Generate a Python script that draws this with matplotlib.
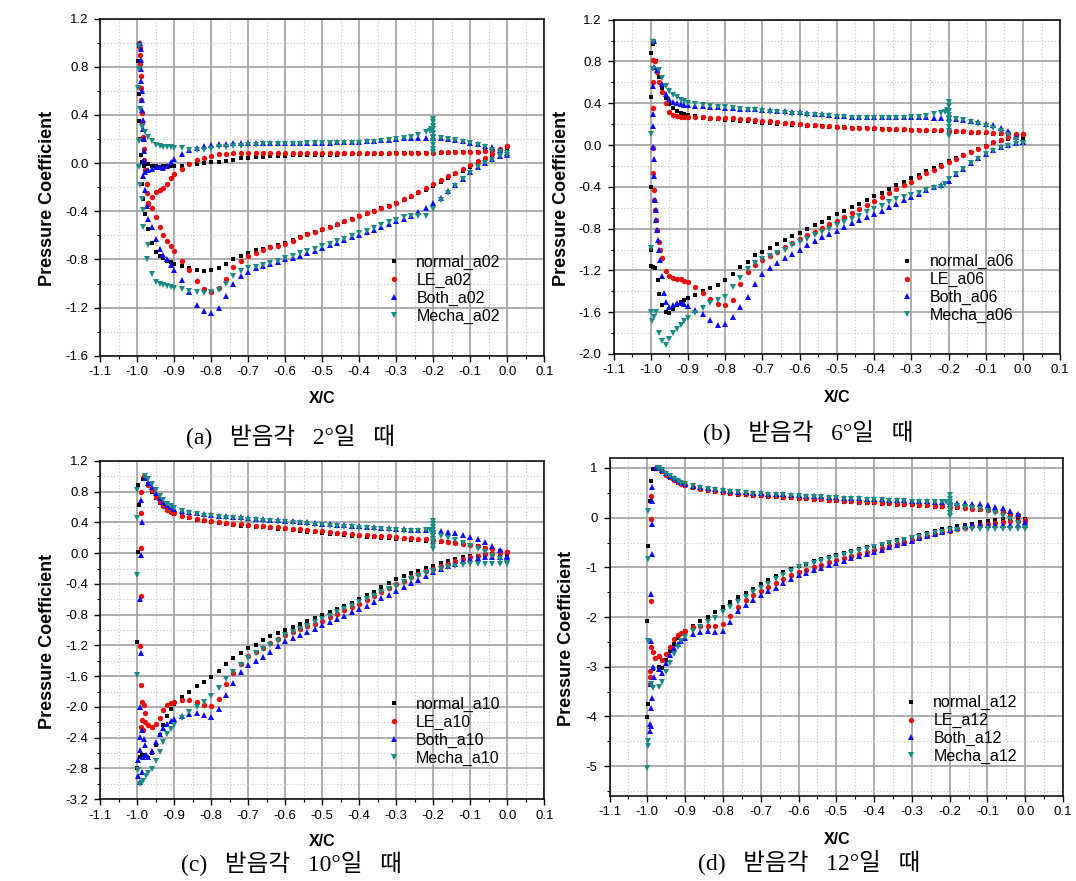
import matplotlib
matplotlib.use('Agg')
import matplotlib.pyplot as plt
from matplotlib.ticker import MultipleLocator, FuncFormatter

plt.rcParams['font.family'] = ['Liberation Sans', 'DejaVu Sans']
plt.rcParams['axes.unicode_minus'] = False

# X/C stations shared by both surface branches
xc = [-0.97, -0.96, -0.95, -0.94, -0.93, -0.92, -0.91, -0.90,
      -0.88, -0.86, -0.84, -0.82, -0.80, -0.78, -0.76, -0.74, -0.72, -0.70,
      -0.68, -0.66, -0.64, -0.62, -0.60, -0.58, -0.56, -0.54, -0.52, -0.50,
      -0.48, -0.46, -0.44, -0.42, -0.40, -0.38, -0.36, -0.34, -0.32, -0.30,
      -0.28, -0.26, -0.24, -0.22, -0.20, -0.18, -0.16, -0.14, -0.12, -0.10,
      -0.08, -0.06, -0.04, -0.02, 0.00]

series_names = ['normal', 'LE', 'Both', 'Mecha']
angle_tags = ['a02', 'a06', 'a10', 'a12']
captions = ['(a)   받음각   2°일   때', '(b)   받음각   6°일   때',
            '(c)   받음각   10°일   때', '(d)   받음각   12°일   때']

# ---------------- alpha = 2 deg ----------------
normal_a02_up = [-0.01, -0.02, -0.02, -0.03, -0.02, -0.02, -0.02, -0.02,
                 -0.02, -0.01, -0.01, 0.00, 0.01, 0.01, 0.02, 0.03, 0.04, 0.045,
                 0.05, 0.054, 0.058, 0.06, 0.062, 0.064, 0.065, 0.066, 0.067, 0.068,
                 0.069, 0.07, 0.072, 0.073, 0.075, 0.076, 0.077, 0.078, 0.079, 0.08,
                 0.081, 0.082, 0.084, 0.085, 0.086, 0.087, 0.088, 0.09, 0.092, 0.094,
                 0.096, 0.098, 0.10, 0.104, 0.11]
normal_a02_lo = [-0.55, -0.66, -0.74, -0.77, -0.79, -0.81, -0.82, -0.835,
                 -0.855, -0.875, -0.89, -0.895, -0.89, -0.875, -0.835, -0.80, -0.77, -0.745,
                 -0.725, -0.71, -0.695, -0.68, -0.665, -0.64, -0.615, -0.592, -0.57, -0.553,
                 -0.53, -0.51, -0.487, -0.465, -0.442, -0.42, -0.398, -0.376, -0.354, -0.332,
                 -0.305, -0.28, -0.252, -0.222, -0.19, -0.158, -0.126, -0.094, -0.062, -0.03,
                 0.0, 0.03, 0.06, 0.085, 0.105]
normal_a02_extra = [(-0.995, 0.97), (-0.997, 0.85), (-0.996, 0.57), (-0.995, 0.35), (-0.993, 0.2),
                    (-0.99, 0.07), (-0.986, 0.01), (-0.982, -0.02), (-0.988, -0.17), (-0.984, -0.3),
                    (-0.979, -0.42)]
LE_a02_up = [-0.33, -0.28, -0.24, -0.225, -0.21, -0.17, -0.125, -0.09,
             -0.045, -0.005, 0.025, 0.045, 0.062, 0.072, 0.078, 0.082, 0.085, 0.087,
             0.088, 0.088, 0.088, 0.088, 0.088, 0.088, 0.088, 0.088, 0.088, 0.088,
             0.088, 0.088, 0.088, 0.088, 0.088, 0.088, 0.088, 0.088, 0.088, 0.088,
             0.088, 0.088, 0.088, 0.088, 0.088, 0.089, 0.09, 0.09, 0.091, 0.092,
             0.095, 0.098, 0.105, 0.118, 0.14]
LE_a02_lo = [-0.34, -0.37, -0.45, -0.53, -0.60, -0.65, -0.69, -0.73,
             -0.81, -0.89, -0.975, -1.045, -1.07, -1.04, -0.96, -0.865, -0.81, -0.77,
             -0.745, -0.72, -0.70, -0.685, -0.67, -0.645, -0.615, -0.59, -0.568, -0.55,
             -0.528, -0.506, -0.484, -0.462, -0.44, -0.418, -0.396, -0.374, -0.352, -0.33,
             -0.30, -0.27, -0.24, -0.205, -0.17, -0.14, -0.11, -0.08, -0.045, -0.015,
             0.015, 0.045, 0.075, 0.105, 0.14]
LE_a02_extra = [(-0.995, 1.0), (-0.994, 0.96), (-0.993, 0.9), (-0.992, 0.82), (-0.991, 0.72),
                (-0.99, 0.62), (-0.989, 0.52), (-0.988, 0.42), (-0.987, 0.33), (-0.985, 0.22),
                (-0.983, 0.12), (-0.981, 0.03), (-0.98, -0.06), (-0.975, -0.17), (-0.973, -0.25)]
Both_a02_up = [-0.06, -0.045, -0.03, -0.03, -0.04, -0.02, 0.01, 0.035,
               0.075, 0.105, 0.125, 0.14, 0.15, 0.158, 0.162, 0.165, 0.167, 0.168,
               0.169, 0.17, 0.17, 0.17, 0.17, 0.17, 0.17, 0.17, 0.17, 0.17,
               0.171, 0.172, 0.174, 0.176, 0.178, 0.182, 0.186, 0.19, 0.195, 0.20,
               0.205, 0.208, 0.21, 0.212, 0.21, 0.205, 0.20, 0.19, 0.18, 0.17,
               0.16, 0.145, 0.13, 0.11, 0.07]
Both_a02_lo = [-0.46, -0.53, -0.63, -0.71, -0.76, -0.80, -0.845, -0.89,
               -0.97, -1.07, -1.18, -1.23, -1.245, -1.20, -1.10, -1.00, -0.94, -0.90,
               -0.875, -0.853, -0.835, -0.82, -0.80, -0.785, -0.768, -0.75, -0.728, -0.705,
               -0.683, -0.66, -0.638, -0.616, -0.595, -0.575, -0.555, -0.53, -0.505, -0.48,
               -0.46, -0.435, -0.41, -0.37, -0.33, -0.29, -0.235, -0.18, -0.13, -0.07,
               -0.03, 0.005, 0.035, 0.06, 0.08]
Both_a02_extra = [(-0.992, 1.0), (-0.991, 0.95), (-0.99, 0.86), (-0.99, 0.78), (-0.989, 0.68),
                  (-0.988, 0.6), (-0.987, 0.52), (-0.986, 0.44), (-0.985, 0.36), (-0.984, 0.28),
                  (-0.983, 0.2), (-0.982, 0.1), (-0.981, 0.02), (-0.98, -0.07), (-0.984, -0.11),
                  (-0.979, -0.22), (-0.975, -0.36)]
Mecha_a02_up = [0.22, 0.18, 0.15, 0.138, 0.135, 0.133, 0.13, 0.128,
                0.122, 0.11, 0.106, 0.11, 0.12, 0.13, 0.137, 0.14, 0.144, 0.147,
                0.152, 0.156, 0.158, 0.16, 0.16, 0.161, 0.162, 0.163, 0.164, 0.165,
                0.166, 0.167, 0.168, 0.169, 0.17, 0.172, 0.176, 0.182, 0.19, 0.198,
                0.205, 0.215, 0.235, 0.255, 0.21, 0.205, 0.198, 0.19, 0.178, 0.166,
                0.15, 0.13, 0.11, 0.09, 0.08]
Mecha_a02_lo = [-0.68, -0.92, -0.99, -1.005, -1.01, -1.02, -1.03, -1.037,
                -1.045, -1.06, -1.07, -1.075, -1.068, -1.05, -1.00, -0.94, -0.895, -0.87,
                -0.86, -0.845, -0.83, -0.81, -0.79, -0.77, -0.75, -0.73, -0.71, -0.69,
                -0.67, -0.65, -0.63, -0.605, -0.58, -0.56, -0.54, -0.515, -0.49, -0.47,
                -0.45, -0.44, -0.44, -0.44, -0.38, -0.31, -0.25, -0.19, -0.13, -0.08,
                -0.035, 0.0, 0.03, 0.055, 0.07]
Mecha_a02_extra = [(-0.995, 0.97), (-0.996, 0.78), (-0.997, 0.62), (-0.994, 0.45), (-0.995, 0.18),
                   (-0.995, -0.03), (-0.993, -0.18), (-0.988, -0.3), (-0.985, -0.39), (-0.984, -0.53),
                   (-0.975, -0.8), (-0.988, 0.3), (-0.98, 0.26),
                   (-0.21, 0.27), (-0.205, 0.28), (-0.2, 0.37), (-0.2, 0.34), (-0.2, 0.31), (-0.2, 0.28),
                   (-0.2, 0.25), (-0.2, 0.22), (-0.2, 0.18), (-0.2, 0.15), (-0.2, 0.12), (-0.2, 0.09)]

# ---------------- alpha = 6 deg ----------------
normal_a06_up = [0.55, 0.45, 0.39, 0.35, 0.33, 0.31, 0.30, 0.29,
                 0.275, 0.26, 0.25, 0.245, 0.24, 0.236, 0.23, 0.225, 0.22, 0.215,
                 0.21, 0.205, 0.20, 0.195, 0.19, 0.186, 0.182, 0.178, 0.175, 0.172,
                 0.169, 0.166, 0.163, 0.16, 0.157, 0.154, 0.151, 0.148, 0.145, 0.142,
                 0.139, 0.136, 0.133, 0.13, 0.127, 0.124, 0.121, 0.118, 0.115, 0.111,
                 0.107, 0.102, 0.095, 0.085, 0.07]
normal_a06_lo = [-1.53, -1.60, -1.61, -1.57, -1.53, -1.50, -1.48, -1.465,
                 -1.435, -1.40, -1.37, -1.34, -1.29, -1.23, -1.17, -1.12, -1.05, -1.02,
                 -0.99, -0.95, -0.91, -0.875, -0.84, -0.805, -0.77, -0.735, -0.70, -0.665,
                 -0.63, -0.595, -0.56, -0.525, -0.49, -0.455, -0.42, -0.385, -0.35, -0.318,
                 -0.285, -0.252, -0.22, -0.188, -0.156, -0.125, -0.095, -0.066, -0.038, -0.012,
                 0.015, 0.04, 0.062, 0.08, 0.095]
normal_a06_extra = [(-0.995, 0.97), (-0.998, 0.88), (-0.985, 0.8), (-0.978, 0.65), (-0.998, 0.46),
                    (-0.999, -0.4), (-0.999, -1.0), (-0.998, -1.16), (-0.994, -1.17), (-0.989, -1.18),
                    (-0.981, -1.29), (-0.977, -1.43)]
LE_a06_up = [0.51, 0.40, 0.32, 0.29, 0.275, 0.27, 0.268, 0.266,
             0.265, 0.265, 0.263, 0.26, 0.258, 0.255, 0.25, 0.245, 0.238, 0.232,
             0.226, 0.22, 0.213, 0.206, 0.20, 0.194, 0.188, 0.183, 0.178, 0.174,
             0.17, 0.167, 0.164, 0.161, 0.158, 0.156, 0.154, 0.152, 0.15, 0.148,
             0.146, 0.144, 0.142, 0.14, 0.137, 0.134, 0.131, 0.128, 0.124, 0.12,
             0.117, 0.114, 0.112, 0.11, 0.11]
LE_a06_lo = [-1.08, -1.21, -1.25, -1.275, -1.28, -1.285, -1.30, -1.315,
             -1.36, -1.415, -1.47, -1.52, -1.53, -1.48, -1.33, -1.22, -1.15, -1.105,
             -1.06, -1.02, -0.98, -0.94, -0.90, -0.865, -0.83, -0.795, -0.76, -0.725,
             -0.687, -0.65, -0.612, -0.575, -0.537, -0.50, -0.462, -0.425, -0.387, -0.35,
             -0.31, -0.27, -0.235, -0.20, -0.165, -0.13, -0.095, -0.065, -0.035, -0.005,
             0.025, 0.05, 0.075, 0.095, 0.11]
LE_a06_extra = [(-0.993, 1.0), (-0.995, 0.81), (-0.988, 0.8), (-0.984, 0.7), (-0.979, 0.6),
                (-0.994, 0.6), (-0.994, 0.35), (-0.994, -0.03), (-0.994, -0.27), (-0.992, -0.43),
                (-0.99, -0.53), (-0.988, -0.62), (-0.985, -0.72), (-0.982, -0.81), (-0.979, -0.93),
                (-0.975, -1.0)]
Both_a06_up = [0.58, 0.49, 0.44, 0.415, 0.40, 0.39, 0.385, 0.38,
               0.375, 0.37, 0.365, 0.362, 0.358, 0.353, 0.348, 0.344, 0.34, 0.337,
               0.334, 0.33, 0.325, 0.318, 0.312, 0.305, 0.298, 0.292, 0.286, 0.28,
               0.276, 0.272, 0.269, 0.267, 0.265, 0.265, 0.265, 0.266, 0.268, 0.27,
               0.268, 0.265, 0.262, 0.258, 0.255, 0.248, 0.24, 0.23, 0.218, 0.205,
               0.19, 0.165, 0.13, 0.08, 0.03]
Both_a06_lo = [-1.25, -1.50, -1.55, -1.535, -1.515, -1.51, -1.52, -1.54,
               -1.58, -1.62, -1.675, -1.72, -1.715, -1.65, -1.55, -1.45, -1.33, -1.23,
               -1.18, -1.13, -1.08, -1.04, -1.00, -0.96, -0.92, -0.885, -0.85, -0.82,
               -0.785, -0.75, -0.72, -0.69, -0.66, -0.63, -0.595, -0.565, -0.53, -0.50,
               -0.465, -0.43, -0.405, -0.38, -0.34, -0.28, -0.225, -0.17, -0.125, -0.085,
               -0.05, -0.02, 0.0, 0.015, 0.03]
Both_a06_extra = [(-0.99, 1.0), (-0.992, 0.75), (-0.983, 0.72), (-0.995, 0.56), (-0.993, 0.3),
                  (-0.993, 0.18), (-0.993, -0.02), (-0.991, -0.13), (-0.99, -0.3), (-0.988, -0.53),
                  (-0.987, -0.62), (-0.985, -0.72), (-0.983, -0.81), (-0.981, -0.91), (-0.978, -1.0),
                  (-0.975, -1.1), (-0.965, -1.42)]
Mecha_a06_up = [0.64, 0.56, 0.52, 0.48, 0.455, 0.435, 0.42, 0.405,
                0.39, 0.38, 0.37, 0.365, 0.36, 0.352, 0.345, 0.338, 0.332, 0.325,
                0.318, 0.312, 0.306, 0.30, 0.295, 0.29, 0.284, 0.278, 0.273, 0.268,
                0.265, 0.262, 0.26, 0.258, 0.257, 0.256, 0.256, 0.257, 0.26, 0.265,
                0.272, 0.28, 0.295, 0.31, 0.255, 0.245, 0.235, 0.222, 0.205, 0.185,
                0.16, 0.13, 0.095, 0.05, 0.015]
Mecha_a06_lo = [-1.88, -1.91, -1.86, -1.80, -1.76, -1.72, -1.685, -1.655,
                -1.605, -1.56, -1.515, -1.485, -1.45, -1.36, -1.27, -1.19, -1.13, -1.09,
                -1.06, -1.03, -1.00, -0.96, -0.93, -0.90, -0.865, -0.83, -0.80, -0.77,
                -0.74, -0.71, -0.68, -0.645, -0.61, -0.58, -0.55, -0.52, -0.50, -0.48,
                -0.455, -0.43, -0.415, -0.405, -0.33, -0.28, -0.225, -0.175, -0.13, -0.09,
                -0.055, -0.025, -0.005, 0.01, 0.02]
Mecha_a06_extra = [(-0.993, 0.99), (-0.995, 0.73), (-0.979, 0.72), (-0.999, 0.11), (-0.999, -0.99),
                   (-0.999, -1.6), (-0.997, -1.68), (-0.99, -1.65), (-0.985, -1.6), (-0.978, -1.8),
                   (-0.21, -0.37),
                   (-0.21, 0.32), (-0.205, 0.335), (-0.2, 0.41), (-0.2, 0.37), (-0.2, 0.33), (-0.2, 0.29),
                   (-0.2, 0.25), (-0.2, 0.21), (-0.2, 0.17), (-0.2, 0.13), (-0.2, 0.09)]

# ---------------- alpha = 10 deg ----------------
normal_a10_up = [0.90, 0.80, 0.72, 0.66, 0.61, 0.57, 0.54, 0.515,
                 0.48, 0.455, 0.437, 0.42, 0.405, 0.392, 0.38, 0.37, 0.36, 0.352,
                 0.344, 0.336, 0.328, 0.32, 0.31, 0.30, 0.29, 0.28, 0.271, 0.262,
                 0.254, 0.246, 0.238, 0.23, 0.222, 0.215, 0.208, 0.20, 0.193, 0.186,
                 0.18, 0.174, 0.168, 0.162, 0.155, 0.148, 0.14, 0.13, 0.118, 0.104,
                 0.088, 0.07, 0.05, 0.025, -0.01]
normal_a10_lo = [-2.67, -2.60, -2.50, -2.37, -2.24, -2.12, -2.02, -1.96,
                 -1.87, -1.80, -1.73, -1.67, -1.61, -1.53, -1.44, -1.36, -1.30, -1.23,
                 -1.19, -1.13, -1.08, -1.04, -1.00, -0.96, -0.92, -0.88, -0.845, -0.81,
                 -0.77, -0.73, -0.69, -0.645, -0.60, -0.545, -0.50, -0.44, -0.39, -0.34,
                 -0.30, -0.26, -0.225, -0.19, -0.16, -0.13, -0.10, -0.075, -0.055, -0.04,
                 -0.03, -0.02, -0.012, -0.01, -0.01]
normal_a10_extra = [(-0.985, 0.97), (-0.997, 0.89), (-0.995, 0.63), (-0.997, 0.02), (-1.0, -1.15),
                    (-1.0, -2.8), (-0.993, -2.65), (-0.986, -2.63), (-0.979, -2.62)]
LE_a10_up = [0.89, 0.82, 0.73, 0.67, 0.61, 0.565, 0.54, 0.52,
             0.49, 0.465, 0.448, 0.432, 0.418, 0.405, 0.395, 0.385, 0.375, 0.366,
             0.357, 0.35, 0.343, 0.337, 0.33, 0.32, 0.31, 0.30, 0.292, 0.284,
             0.275, 0.266, 0.258, 0.25, 0.242, 0.236, 0.23, 0.224, 0.218, 0.211,
             0.204, 0.196, 0.188, 0.18, 0.17, 0.16, 0.15, 0.138, 0.124, 0.108,
             0.09, 0.072, 0.054, 0.034, 0.015]
LE_a10_lo = [-2.23, -2.26, -2.22, -2.14, -2.04, -1.98, -1.95, -1.935,
             -1.915, -1.91, -1.93, -1.975, -1.99, -1.90, -1.70, -1.56, -1.44, -1.34,
             -1.28, -1.23, -1.17, -1.12, -1.07, -1.03, -0.99, -0.95, -0.915, -0.88,
             -0.835, -0.79, -0.745, -0.70, -0.66, -0.61, -0.56, -0.505, -0.45, -0.40,
             -0.36, -0.315, -0.275, -0.235, -0.20, -0.165, -0.135, -0.105, -0.075, -0.05,
             -0.03, -0.015, -0.005, 0.005, 0.015]
LE_a10_extra = [(-0.982, 1.0), (-0.99, 0.8), (-0.991, 0.52), (-0.99, 0.065), (-0.99, -0.56),
                (-0.992, -1.21), (-0.99, -1.71), (-0.988, -1.93), (-0.982, -1.97), (-0.98, -2.08),
                (-0.988, -2.17), (-0.991, -2.26), (-0.985, -2.3), (-0.978, -2.2)]
Both_a10_up = [0.92, 0.86, 0.79, 0.72, 0.67, 0.63, 0.60, 0.58,
               0.555, 0.535, 0.52, 0.508, 0.497, 0.488, 0.48, 0.472, 0.465, 0.458,
               0.45, 0.443, 0.437, 0.43, 0.423, 0.415, 0.407, 0.40, 0.392, 0.384,
               0.377, 0.37, 0.362, 0.355, 0.348, 0.342, 0.336, 0.33, 0.323, 0.317,
               0.312, 0.307, 0.302, 0.298, 0.292, 0.283, 0.272, 0.258, 0.24, 0.215,
               0.185, 0.145, 0.10, 0.04, -0.04]
Both_a10_lo = [-2.65, -2.57, -2.45, -2.35, -2.28, -2.225, -2.185, -2.155,
               -2.115, -2.09, -2.08, -2.11, -2.125, -2.03, -1.85, -1.69, -1.55, -1.46,
               -1.40, -1.35, -1.28, -1.21, -1.14, -1.10, -1.06, -1.02, -0.98, -0.94,
               -0.90, -0.855, -0.815, -0.77, -0.73, -0.68, -0.635, -0.585, -0.54, -0.49,
               -0.44, -0.39, -0.345, -0.295, -0.25, -0.21, -0.17, -0.135, -0.10, -0.075,
               -0.06, -0.05, -0.045, -0.045, -0.05]
Both_a10_extra = [(-0.98, 0.98), (-0.99, 0.69), (-0.988, 0.41), (-0.99, -0.02), (-0.992, -0.59),
                  (-0.99, -1.3), (-0.992, -2.0), (-0.992, -2.39), (-0.994, -2.56), (-0.997, -2.69),
                  (-0.997, -2.9), (-0.993, -2.97), (-0.988, -2.85), (-0.984, -2.65), (-0.98, -2.5),
                  (-0.976, -2.62), (-0.986, -2.3), (-0.982, -2.42)]
Mecha_a10_up = [0.96, 0.90, 0.82, 0.75, 0.69, 0.645, 0.61, 0.585,
                0.55, 0.525, 0.505, 0.49, 0.478, 0.468, 0.46, 0.452, 0.445, 0.438,
                0.43, 0.423, 0.416, 0.41, 0.403, 0.395, 0.387, 0.38, 0.372, 0.365,
                0.358, 0.35, 0.343, 0.336, 0.33, 0.324, 0.318, 0.312, 0.306, 0.30,
                0.295, 0.292, 0.292, 0.30, 0.25, 0.225, 0.20, 0.17, 0.135, 0.10,
                0.06, 0.02, -0.03, -0.08, -0.13]
Mecha_a10_lo = [-2.86, -2.81, -2.70, -2.58, -2.45, -2.35, -2.29, -2.23,
                -2.14, -2.06, -2.00, -1.93, -1.86, -1.75, -1.64, -1.54, -1.45, -1.36,
                -1.30, -1.25, -1.20, -1.14, -1.07, -1.03, -0.985, -0.945, -0.90, -0.86,
                -0.815, -0.77, -0.73, -0.685, -0.64, -0.595, -0.55, -0.51, -0.465, -0.42,
                -0.38, -0.34, -0.30, -0.26, -0.23, -0.20, -0.175, -0.16, -0.15, -0.14,
                -0.14, -0.14, -0.14, -0.14, -0.14]
Mecha_a10_extra = [(-0.978, 1.0), (-1.0, 0.82), (-1.0, 0.46), (-1.0, -0.28), (-1.0, -1.58),
                   (-0.997, -2.82), (-0.993, -3.0), (-0.984, -2.96), (-0.977, -2.9),
                   (-0.21, 0.3), (-0.2, 0.42), (-0.2, 0.38), (-0.2, 0.34), (-0.2, 0.3), (-0.2, 0.26),
                   (-0.2, 0.22), (-0.2, 0.18), (-0.2, 0.14), (-0.2, 0.1), (-0.2, 0.06)]

# ---------------- alpha = 12 deg ----------------
normal_a12_up = [0.98, 0.92, 0.85, 0.80, 0.75, 0.70, 0.67, 0.645,
                 0.605, 0.57, 0.54, 0.515, 0.495, 0.478, 0.463, 0.45, 0.44, 0.43,
                 0.42, 0.41, 0.40, 0.39, 0.38, 0.37, 0.36, 0.35, 0.34, 0.33,
                 0.32, 0.312, 0.304, 0.296, 0.288, 0.28, 0.272, 0.264, 0.256, 0.248,
                 0.24, 0.232, 0.224, 0.216, 0.207, 0.198, 0.188, 0.176, 0.162, 0.146,
                 0.127, 0.105, 0.078, 0.045, -0.02]
normal_a12_lo = [-3.00, -3.02, -2.87, -2.68, -2.54, -2.43, -2.35, -2.28,
                 -2.18, -2.08, -1.99, -1.89, -1.80, -1.69, -1.60, -1.51, -1.43, -1.33,
                 -1.25, -1.17, -1.10, -1.035, -0.975, -0.925, -0.88, -0.84, -0.80, -0.755,
                 -0.715, -0.675, -0.637, -0.60, -0.565, -0.527, -0.49, -0.455, -0.42, -0.385,
                 -0.355, -0.31, -0.27, -0.23, -0.20, -0.17, -0.145, -0.12, -0.095, -0.075,
                 -0.055, -0.035, -0.025, -0.02, -0.02]
normal_a12_extra = [(-0.985, 0.97), (-0.991, 0.74), (-0.994, 0.34), (-0.997, -0.57), (-1.0, -2.08),
                    (-1.0, -4.02), (-0.997, -3.75), (-0.985, -3.05)]
LE_a12_up = [0.99, 0.93, 0.86, 0.81, 0.76, 0.715, 0.68, 0.655,
             0.615, 0.58, 0.55, 0.53, 0.51, 0.493, 0.478, 0.466, 0.456, 0.446,
             0.437, 0.428, 0.42, 0.41, 0.40, 0.39, 0.38, 0.37, 0.36, 0.35,
             0.341, 0.332, 0.324, 0.316, 0.308, 0.30, 0.292, 0.284, 0.276, 0.268,
             0.26, 0.251, 0.242, 0.232, 0.222, 0.21, 0.197, 0.183, 0.167, 0.15,
             0.13, 0.107, 0.08, 0.045, -0.04]
LE_a12_lo = [-2.78, -2.87, -2.75, -2.60, -2.45, -2.37, -2.33, -2.28,
             -2.20, -2.18, -2.18, -2.18, -2.13, -1.98, -1.79, -1.66, -1.56, -1.48,
             -1.39, -1.32, -1.24, -1.16, -1.10, -1.05, -1.00, -0.95, -0.90, -0.85,
             -0.81, -0.77, -0.73, -0.69, -0.65, -0.61, -0.57, -0.53, -0.485, -0.44,
             -0.40, -0.36, -0.32, -0.29, -0.26, -0.23, -0.20, -0.175, -0.15, -0.13,
             -0.11, -0.09, -0.075, -0.065, -0.06]
LE_a12_extra = [(-0.978, 1.0), (-0.99, 0.44), (-0.99, -0.03), (-0.99, -1.68), (-0.99, -2.6),
                (-0.992, -3.08), (-0.994, -3.35), (-0.993, -3.2), (-0.985, -2.7), (-0.98, -2.82)]
Both_a12_up = [0.99, 0.95, 0.89, 0.84, 0.79, 0.75, 0.71, 0.685,
               0.645, 0.615, 0.59, 0.57, 0.553, 0.538, 0.525, 0.513, 0.502, 0.492,
               0.483, 0.474, 0.466, 0.458, 0.45, 0.442, 0.434, 0.426, 0.418, 0.41,
               0.402, 0.395, 0.388, 0.381, 0.374, 0.367, 0.36, 0.353, 0.346, 0.34,
               0.334, 0.328, 0.322, 0.316, 0.31, 0.302, 0.292, 0.28, 0.265, 0.245,
               0.22, 0.185, 0.14, 0.07, -0.08]
Both_a12_lo = [-3.05, -3.12, -2.93, -2.76, -2.63, -2.54, -2.48, -2.42,
               -2.35, -2.31, -2.29, -2.31, -2.28, -2.10, -1.88, -1.75, -1.65, -1.56,
               -1.48, -1.41, -1.32, -1.24, -1.16, -1.11, -1.06, -1.01, -0.96, -0.91,
               -0.865, -0.82, -0.78, -0.735, -0.69, -0.645, -0.60, -0.555, -0.51, -0.46,
               -0.415, -0.37, -0.325, -0.28, -0.24, -0.205, -0.175, -0.155, -0.145, -0.14,
               -0.14, -0.14, -0.14, -0.14, -0.14]
Both_a12_extra = [(-0.976, 1.0), (-0.988, 0.62), (-0.988, 0.33), (-0.988, -0.13), (-0.988, -0.74),
                  (-0.991, -1.54), (-0.991, -2.48), (-0.991, -3.35), (-0.988, -3.62), (-0.991, -3.82),
                  (-0.992, -4.16), (-0.992, -4.29), (-0.99, -4.2), (-0.985, -3.0), (-0.982, -3.2)]
Mecha_a12_up = [1.00, 0.95, 0.88, 0.83, 0.78, 0.74, 0.70, 0.675,
                0.635, 0.60, 0.575, 0.555, 0.537, 0.521, 0.507, 0.495, 0.484, 0.474,
                0.465, 0.456, 0.448, 0.44, 0.432, 0.424, 0.416, 0.408, 0.40, 0.392,
                0.384, 0.377, 0.37, 0.363, 0.356, 0.349, 0.342, 0.335, 0.328, 0.322,
                0.316, 0.31, 0.305, 0.31, 0.26, 0.24, 0.22, 0.195, 0.165, 0.13,
                0.09, 0.04, -0.02, -0.10, -0.20]
Mecha_a12_lo = [-3.40, -3.30, -3.10, -2.92, -2.74, -2.60, -2.49, -2.41,
                -2.29, -2.19, -2.10, -2.01, -1.90, -1.80, -1.70, -1.60, -1.50, -1.42,
                -1.33, -1.24, -1.16, -1.08, -1.00, -0.96, -0.92, -0.88, -0.84, -0.79,
                -0.75, -0.71, -0.67, -0.63, -0.59, -0.555, -0.52, -0.485, -0.45, -0.415,
                -0.38, -0.345, -0.31, -0.28, -0.255, -0.24, -0.23, -0.225, -0.22, -0.22,
                -0.22, -0.22, -0.225, -0.23, -0.235]
Mecha_a12_extra = [(-0.972, 1.0), (-0.997, 0.13), (-0.999, -0.84), (-0.997, -2.48), (-0.997, -4.49),
                   (-0.997, -4.59), (-1.0, -5.03), (-0.991, -3.35), (-0.984, -3.42),
                   (-0.21, 0.32), (-0.2, 0.45), (-0.2, 0.38), (-0.2, 0.31), (-0.2, 0.24),
                   (-0.2, 0.17), (-0.2, 0.1), (-0.2, 0.04)]

data = {
    'a02': [(normal_a02_up, normal_a02_lo, normal_a02_extra), (LE_a02_up, LE_a02_lo, LE_a02_extra),
            (Both_a02_up, Both_a02_lo, Both_a02_extra), (Mecha_a02_up, Mecha_a02_lo, Mecha_a02_extra)],
    'a06': [(normal_a06_up, normal_a06_lo, normal_a06_extra), (LE_a06_up, LE_a06_lo, LE_a06_extra),
            (Both_a06_up, Both_a06_lo, Both_a06_extra), (Mecha_a06_up, Mecha_a06_lo, Mecha_a06_extra)],
    'a10': [(normal_a10_up, normal_a10_lo, normal_a10_extra), (LE_a10_up, LE_a10_lo, LE_a10_extra),
            (Both_a10_up, Both_a10_lo, Both_a10_extra), (Mecha_a10_up, Mecha_a10_lo, Mecha_a10_extra)],
    'a12': [(normal_a12_up, normal_a12_lo, normal_a12_extra), (LE_a12_up, LE_a12_lo, LE_a12_extra),
            (Both_a12_up, Both_a12_lo, Both_a12_extra), (Mecha_a12_up, Mecha_a12_lo, Mecha_a12_extra)],
}

# marker styles per series
styles = [('s', '#000000', 3.5), ('o', '#e8100f', 3.9), ('^', '#0a0aff', 4.7), ('v', '#1a8a84', 4.9)]

# y-axis settings per panel: (min, max, major, minor, format)
yaxes = [(-1.6, 1.2, 0.4, 0.2, '%.1f'), (-2.0, 1.2, 0.4, 0.2, '%.1f'),
         (-3.2, 1.2, 0.4, 0.2, '%.1f'), (-5.6, 1.2, 1.0, 0.5, '%d')]

W, H = 1076, 881
# layout in pixels: axes box (l, t, r, b), ylabel centre, xlabel centre, legend top-left, caption centre
layout = [
    ((100.3, 18.6, 544.3, 355.8), (47.7, 198.7), (322, 399), (386, 255), (290, 437)),
    ((613.5, 19.6, 1060.2, 354.0), (561.7, 198.7), (837, 398), (899.5, 254.3), (808, 433)),
    ((100.3, 461.0, 544.3, 799.2), (47.7, 641.7), (322, 842), (385.8, 697), (291, 864)),
    ((609.5, 458.0, 1063.1, 796.0), (566.5, 638.7), (837, 840), (903, 695.3), (809, 863)),
]

fig = plt.figure(figsize=(W / 100, H / 100), dpi=100)


def fmt_func(fmt):
    def f(v, pos):
        if abs(v) < 1e-9:
            v = 0.0
        return fmt % v
    return FuncFormatter(f)


for k, tag in enumerate(angle_tags):
    (l, t, r, b), ylab, xlab, leg, cap = layout[k]
    ax = fig.add_axes([l / W, 1 - b / H, (r - l) / W, (b - t) / H])
    for (up, lo, extra), name, (mk, col, ms) in zip(data[tag], series_names, styles):
        xs = xc + xc + [p[0] for p in extra]
        ys = up + lo + [p[1] for p in extra]
        ax.plot(xs, ys, ls='none', marker=mk, ms=ms, mfc=col, mec=col, mew=0,
                label=f'{name}_{tag}')

    ymin, ymax, ymaj, ymin_step, fmt = yaxes[k]
    ax.set_xlim(-1.1, 0.1)
    ax.set_ylim(ymin, ymax)
    ax.xaxis.set_major_locator(MultipleLocator(0.1))
    ax.xaxis.set_minor_locator(MultipleLocator(0.05))
    ax.yaxis.set_major_locator(MultipleLocator(ymaj))
    ax.yaxis.set_minor_locator(MultipleLocator(ymin_step))
    ax.xaxis.set_major_formatter(fmt_func('%.1f'))
    ax.yaxis.set_major_formatter(fmt_func(fmt))
    if k == 3:
        ax.set_yticks([-5, -4, -3, -2, -1, 0, 1])

    ax.set_axisbelow(True)
    ax.grid(which='major', color='#a0a0a0', lw=1.2, ls='-')
    ax.grid(which='minor', color='#c4c4c4', lw=0.8, ls=(0, (1, 2)))
    for sp in ax.spines.values():
        sp.set_linewidth(1.1)
    ax.tick_params(which='major', direction='out', length=4, width=1.0, labelsize=9.5,
                   pad=3.5, colors='#000000')
    ax.tick_params(which='minor', direction='out', length=2.5, width=0.8)
    ax.tick_params(axis='y', which='major', pad=4.5)

    fig.text(ylab[0] / W, 1 - ylab[1] / H, 'Pressure Coefficient', rotation=90,
             ha='center', va='center', fontsize=13, fontweight='bold')
    fig.text(xlab[0] / W, 1 - xlab[1] / H, 'X/C', ha='center', va='center',
             fontsize=11.5, fontweight='bold')

    bx = (leg[0] - l) / (r - l)
    by = 1 - (leg[1] - t) / (b - t)
    ax.legend(loc='upper left', bbox_to_anchor=(bx, by), frameon=False, fontsize=11.5,
              handlelength=1.0, handletextpad=0.9, labelspacing=0.17, borderpad=0,
              borderaxespad=0, numpoints=1)

    fig.text(cap[0] / W, 1 - cap[1] / H, captions[k], ha='center', va='center',
             fontsize=17, family=['Liberation Serif', 'Noto Sans CJK KR'])

fig.savefig('out.png', dpi=100)
